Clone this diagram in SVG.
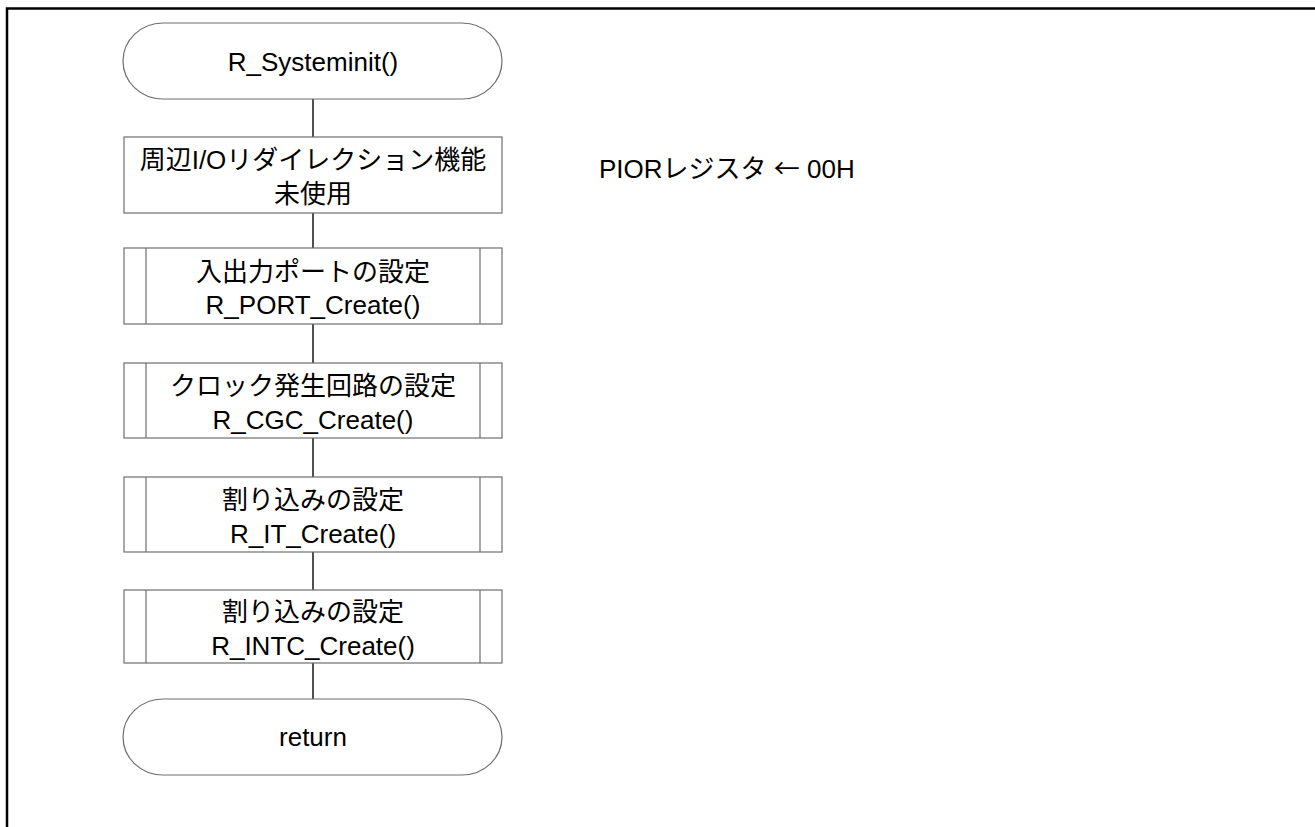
<svg xmlns="http://www.w3.org/2000/svg" width="1315" height="827" viewBox="0 0 1315 827">
<style>
.frame{fill:none;stroke:#000;stroke-width:2.5}
.shape{fill:#fff;stroke:#6e6e6e;stroke-width:1.2}
.conn{stroke:#505050;stroke-width:2;fill:none}
text{font-family:"Liberation Sans","Noto Sans CJK JP",sans-serif;font-size:26px;fill:#000;text-anchor:middle}
.note{text-anchor:start}
.arrow{font-family:"Noto Sans CJK JP",sans-serif}
</style>
<rect width="1315" height="827" fill="#fff"/>
<path class="frame" d="M7,827 V8.5 H1315"/>
<g id="connectors">
<line class="conn" x1="313" y1="99" x2="313" y2="137"/>
<line class="conn" x1="313" y1="213" x2="313" y2="248"/>
<line class="conn" x1="313" y1="324" x2="313" y2="363"/>
<line class="conn" x1="313" y1="438" x2="313" y2="477"/>
<line class="conn" x1="313" y1="552" x2="313" y2="590"/>
<line class="conn" x1="313" y1="663" x2="313" y2="699"/>
</g>
<g id="start">
<rect class="shape" x="123" y="23" width="379" height="76" rx="40" ry="38"/>
<text x="313" y="71">R_Systeminit()</text>
</g>
<g id="pior">
<rect class="shape" x="124" y="137" width="378" height="76"/>
<text x="313" y="169">周辺I/Oリダイレクション機能</text>
<text x="313" y="203">未使用</text>
</g>
<g id="note">
<text class="note" x="599" y="178">PIORレジスタ <tspan class="arrow">←</tspan> 00H</text>
</g>
<g id="port">
<rect class="shape" x="124" y="248" width="378" height="76"/>
<line class="shape" x1="146" y1="248" x2="146" y2="324"/>
<line class="shape" x1="480" y1="248" x2="480" y2="324"/>
<text x="313" y="281">入出力ポートの設定</text>
<text x="313" y="314">R_PORT_Create()</text>
</g>
<g id="cgc">
<rect class="shape" x="124" y="363" width="378" height="75"/>
<line class="shape" x1="146" y1="363" x2="146" y2="438"/>
<line class="shape" x1="480" y1="363" x2="480" y2="438"/>
<text x="313" y="395">クロック発生回路の設定</text>
<text x="313" y="429">R_CGC_Create()</text>
</g>
<g id="it">
<rect class="shape" x="124" y="477" width="378" height="75"/>
<line class="shape" x1="146" y1="477" x2="146" y2="552"/>
<line class="shape" x1="480" y1="477" x2="480" y2="552"/>
<text x="313" y="509">割り込みの設定</text>
<text x="313" y="543">R_IT_Create()</text>
</g>
<g id="intc">
<rect class="shape" x="124" y="590" width="378" height="73"/>
<line class="shape" x1="146" y1="590" x2="146" y2="663"/>
<line class="shape" x1="480" y1="590" x2="480" y2="663"/>
<text x="313" y="621">割り込みの設定</text>
<text x="313" y="655">R_INTC_Create()</text>
</g>
<g id="return">
<rect class="shape" x="123" y="699" width="379" height="76" rx="40" ry="38"/>
<text x="313" y="746">return</text>
</g>
</svg>
